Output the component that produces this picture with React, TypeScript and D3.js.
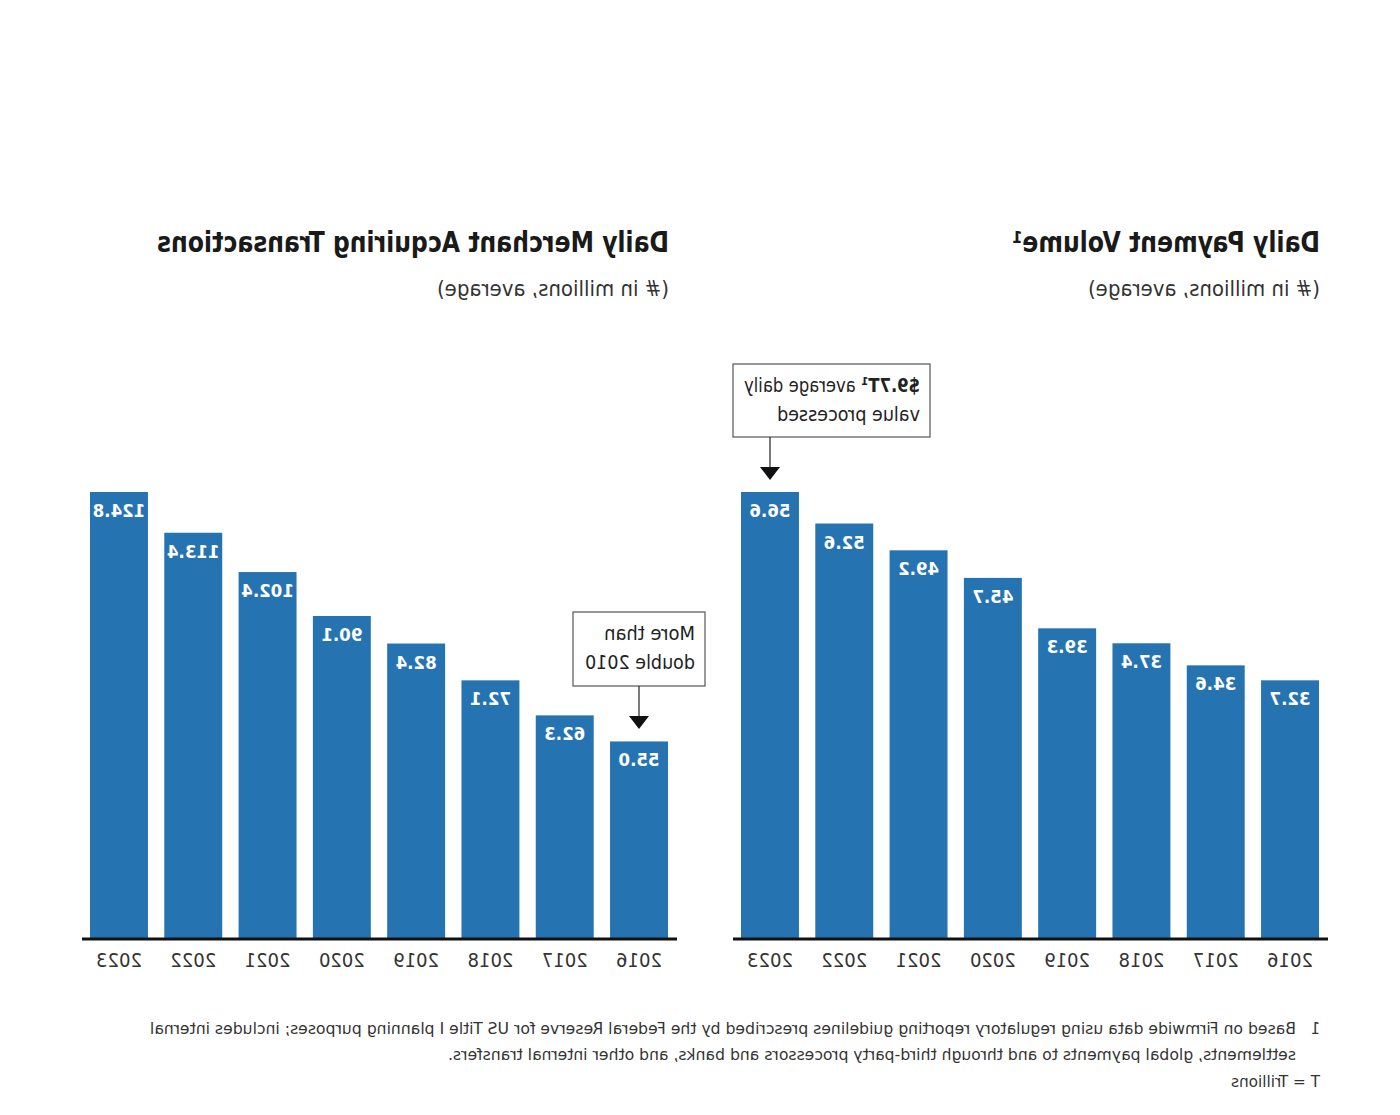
import React from "react";
import * as d3 from "d3";

const years = ["2016", "2017", "2018", "2019", "2020", "2021", "2022", "2023"];
const paymentVolume = [32.7, 34.6, 37.4, 39.3, 45.7, 49.2, 52.6, 56.6];
const merchantTransactions = [55.0, 62.3, 72.1, 82.4, 90.1, 102.4, 113.4, 124.8];

const paymentTitle = "Daily Payment Volume¹";
const merchantTitle = "Daily Merchant Acquiring Transactions";
const subtitle = "(# in millions, average)";
const paymentNote = ["$9.7T¹", " average daily", "value processed"];
const merchantNote = ["More than", "double 2010"];
const footnotes = [
  "Based on Firmwide data using regulatory reporting guidelines prescribed by the Federal Reserve for US Title I planning purposes; includes internal",
  "settlements, global payments to and through third-party processors and banks, and other internal transfers.",
  "T = Trillions",
];

const W = 1400;
const H = 1115;
const BAR = "#2673b2";
const FONT = "'DejaVu Sans Condensed', 'DejaVu Sans', sans-serif";
const BASE_Y = 938;
const TOP_Y = 492;

function Panel({ values, x0, x1, title, titleLen }: any) {
  const x = d3.scaleBand().domain(years).range([x0, x1]).paddingInner(0.22).paddingOuter(0);
  const y = d3.scaleLinear().domain([0, d3.max(values) as number]).range([BASE_Y, TOP_Y]);
  return (
    <g>
      <text x={x0 - 1} y={252} fontFamily={FONT} fontWeight={700} fontSize={28} fill="#1a1a1a" textLength={titleLen} lengthAdjust="spacingAndGlyphs">
        {title}
      </text>
      <text x={x0 - 1} y={296} fontFamily={FONT} fontSize={21} fill="#333" textLength={232} lengthAdjust="spacingAndGlyphs">
        {subtitle}
      </text>
      {values.map((v: number, i: number) => (
        <g key={years[i]}>
          <rect x={x(years[i])} y={y(v)} width={x.bandwidth()} height={BASE_Y - y(v)} fill={BAR} />
          <text x={(x(years[i]) as number) + x.bandwidth() / 2} y={y(v) + 25} textAnchor="middle" fontFamily={FONT} fontWeight={700} fontSize={18.5} fill="#fff">
            {v.toFixed(1)}
          </text>
          <text x={(x(years[i]) as number) + x.bandwidth() / 2} y={967} textAnchor="middle" fontFamily={FONT} fontSize={20} fill="#333">
            {years[i]}
          </text>
        </g>
      ))}
      <line x1={x0 - 9} x2={x1 + 8} y1={BASE_Y + 1} y2={BASE_Y + 1} stroke="#111" strokeWidth={3} />
    </g>
  );
}

function Callout({ bx, by, bw, bh, ax, lines }: any) {
  const ay0 = by + bh;
  const ay1 = ay0 + 30;
  return (
    <g>
      <rect x={bx} y={by} width={bw} height={bh} fill="#fff" stroke="#555" strokeWidth={1.2} />
      {lines.map((l: any, i: number) => (
        <text key={i} x={bx + 10} y={by + 28 + i * 29} fontFamily={FONT} fontSize={20} fill="#222" textLength={l.len} lengthAdjust="spacingAndGlyphs">
          {l.bold ? <tspan fontWeight={700}>{l.bold}</tspan> : null}
          {l.text}
        </text>
      ))}
      <line x1={ax} x2={ax} y1={ay0} y2={ay1} stroke="#222" strokeWidth={1.2} />
      <path d={`M${ax - 10},${ay1} L${ax + 10},${ay1} L${ax},${ay1 + 13} Z`} fill="#111" />
    </g>
  );
}

export default function App() {
  return (
    <svg width={W} height={H} style={{ position: "absolute", left: 0, top: 0, background: "#fff" }}>
      <rect width={W} height={H} fill="#fff" />
      <g transform={`translate(${W},0) scale(-1,1)`}>
        <Panel values={paymentVolume} x0={81} x1={659} title={paymentTitle} titleLen={308} />
        <Panel values={merchantTransactions} x0={732} x1={1310} title={merchantTitle} titleLen={512} />
        <Callout
          bx={470}
          by={364}
          bw={197}
          bh={73}
          ax={630}
          lines={[
            { bold: paymentNote[0], text: paymentNote[1], len: 176 },
            { text: paymentNote[2], len: 143 },
          ]}
        />
        <Callout
          bx={695}
          by={612}
          bw={132}
          bh={74}
          ax={761}
          lines={[
            { text: merchantNote[0], len: 91 },
            { text: merchantNote[1], len: 110 },
          ]}
        />
        <text x={80} y={1034} fontFamily={FONT} fontSize={16} fill="#333">1</text>
        <text x={104} y={1034} fontFamily={FONT} fontSize={16} fill="#333" textLength={1146} lengthAdjust="spacingAndGlyphs">
          {footnotes[0]}
        </text>
        <text x={104} y={1060} fontFamily={FONT} fontSize={16} fill="#333" textLength={848} lengthAdjust="spacingAndGlyphs">
          {footnotes[1]}
        </text>
        <text x={80} y={1087} fontFamily={FONT} fontSize={16} fill="#333" textLength={89} lengthAdjust="spacingAndGlyphs">
          {footnotes[2]}
        </text>
      </g>
    </svg>
  );
}
